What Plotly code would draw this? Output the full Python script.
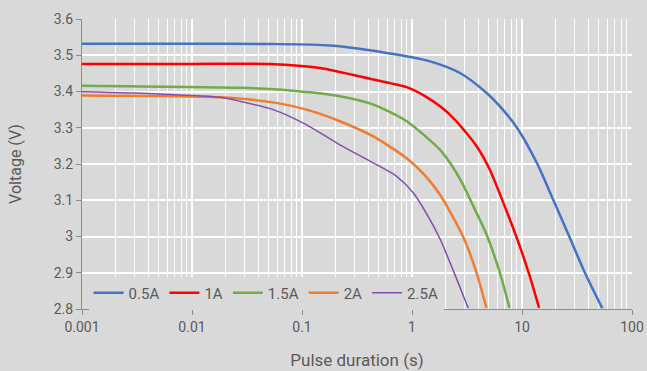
import plotly.graph_objects as go

# Pulse duration (s) and voltage (V)
t_05 = [0.001, 0.01, 0.05, 0.18, 0.726, 1.46, 2.73, 4.77, 6.31, 9.0, 13.8, 19.3, 26.9, 37.3, 53.7]
v_05 = [3.532, 3.532, 3.531, 3.527, 3.502, 3.483, 3.451, 3.396, 3.359, 3.300, 3.200, 3.100, 3.000, 2.900, 2.802]

t_1 = [0.001, 0.01, 0.051, 0.146, 0.445, 0.895, 1.3, 1.8, 2.46, 3.87, 5.1, 6.6, 9.2, 11.8, 14.3]
v_1 = [3.476, 3.476, 3.476, 3.465, 3.433, 3.412, 3.388, 3.359, 3.322, 3.249, 3.184, 3.101, 2.987, 2.889, 2.803]

t_15 = [0.001, 0.0273, 0.0778, 0.221, 0.445, 0.895, 1.8, 2.3, 2.83, 3.5, 4.77, 6.31, 7.7]
v_15 = [3.416, 3.410, 3.403, 3.387, 3.364, 3.318, 3.239, 3.196, 3.150, 3.092, 3.005, 2.899, 2.803]

t_2 = [0.001, 0.018, 0.0548, 0.11, 0.221, 0.445, 0.895, 1.3, 1.8, 2.93, 3.87, 4.75]
v_2 = [3.389, 3.384, 3.370, 3.350, 3.318, 3.276, 3.216, 3.170, 3.115, 2.998, 2.899, 2.803]

t_25 = [0.001, 0.005, 0.018, 0.0273, 0.0548, 0.11, 0.221, 0.445, 0.726, 1.03, 1.46, 1.8, 2.5, 3.03, 3.25]
v_25 = [3.399, 3.393, 3.384, 3.373, 3.350, 3.308, 3.253, 3.203, 3.166, 3.120, 3.046, 2.993, 2.889, 2.825, 2.803]

names = ["0.5A", "1A", "1.5A", "2A", "2.5A"]
colors = ["#4472c4", "#ff0000", "#70ad47", "#ed7d31", "#7f4fb0"]
widths = [2.5, 2.5, 2.5, 2.5, 1.5]

x_tickvals = [0.001, 0.01, 0.1, 1, 10, 100]
x_ticktext = ["0.001", "0.01", "0.1", "1", "10", "100"]
x_minor = [m * d for d in [0.001, 0.01, 0.1, 1, 10] for m in range(2, 10)]

fig = go.Figure()
for t, v, n, c, w in zip([t_05, t_1, t_15, t_2, t_25], [v_05, v_1, v_15, v_2, v_25], names, colors, widths):
    fig.add_trace(go.Scatter(x=t, y=v, name=n, mode="lines",
                             line=dict(color=c, width=w, shape="spline", smoothing=0.7)))

txt = "#595959"
fig.update_layout(
    width=647, height=371,
    margin=dict(l=82, r=15, t=19, b=62),
    paper_bgcolor="#d9d9d9", plot_bgcolor="#d9d9d9",
    font=dict(family="Roboto", size=14, color=txt),
    showlegend=True,
    legend=dict(orientation="h", x=0.012, xanchor="left", y=0.055, yanchor="middle",
                bgcolor="#d9d9d9", font=dict(size=15, color=txt), itemwidth=30,
                tracegroupgap=0),
    xaxis=dict(type="log", range=[-3, 2], tickvals=x_tickvals, ticktext=x_ticktext,
               automargin=False,
               showgrid=True, gridcolor="white", gridwidth=1.5,
               minor=dict(tickvals=x_minor, showgrid=True, gridcolor="white", gridwidth=1, ticks=""),
               showline=True, linecolor="#8c8c8c", linewidth=1,
               ticks="outside", ticklen=5, tickcolor="#8c8c8c",
               title=dict(text="Pulse duration (s)", standoff=20, font=dict(size=17, color=txt)),
               zeroline=False),
    yaxis=dict(range=[2.8, 3.6], dtick=0.1, tick0=2.8, automargin=False,
               showgrid=True, gridcolor="white", gridwidth=1.5,
               showline=True, linecolor="#8c8c8c", linewidth=1,
               ticks="outside", ticklen=5, tickcolor="#8c8c8c",
               title=dict(text="Voltage (V)", standoff=28, font=dict(size=16, color=txt)),
               zeroline=False),
)

fig.write_html("out.html", config={"displayModeBar": False},
               post_script="document.body.style.margin='0px';")
